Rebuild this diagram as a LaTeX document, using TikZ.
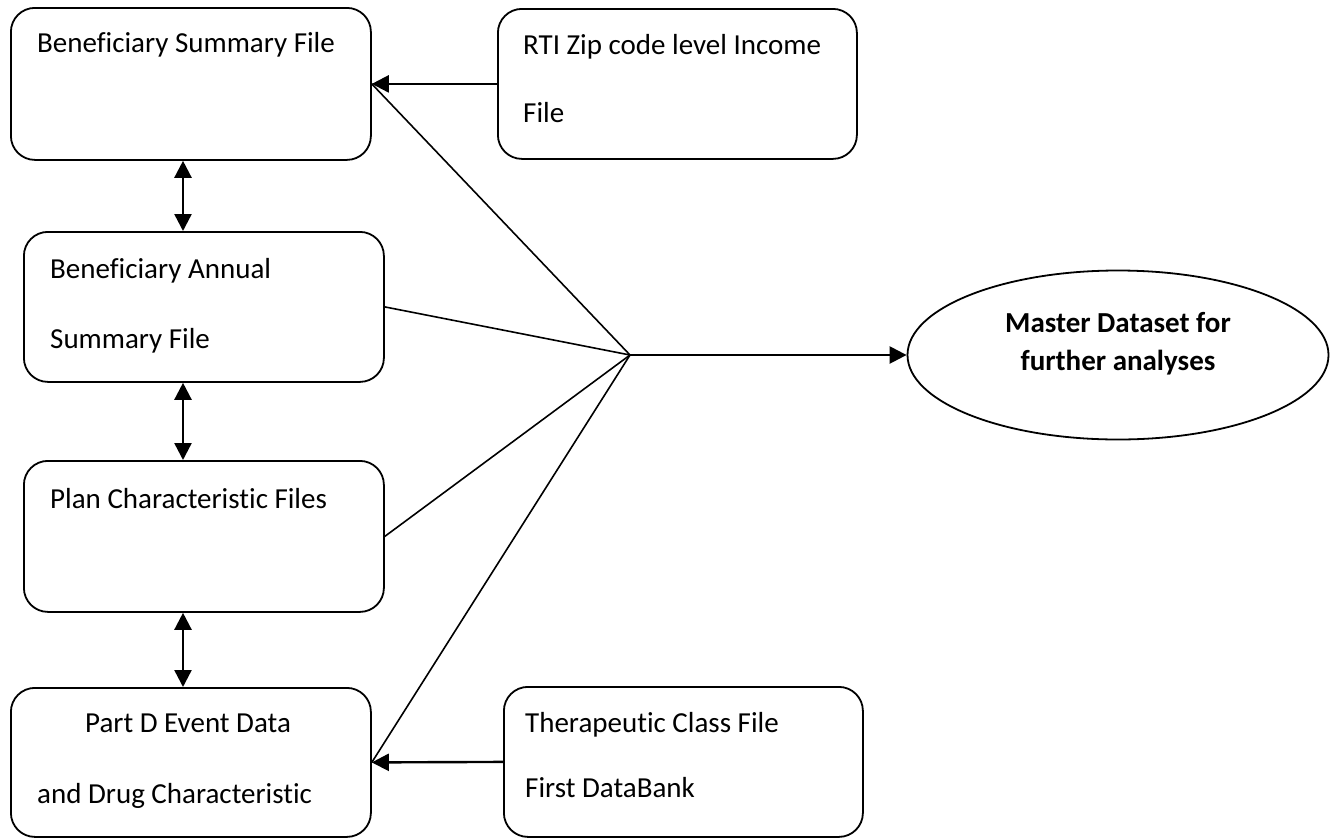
\documentclass[tikz,border=0pt]{standalone}
\usepackage{fontspec}
\setmainfont[Ligatures={NoCommon}]{Carlito}
\usetikzlibrary{shapes.geometric,arrows.meta}
\begin{document}
\begin{tikzpicture}[x=1pt,y=-1pt,
  box/.style={draw, line width=1.8pt, rounded corners=24pt, anchor=north west, inner sep=0pt},
  lbl/.style={anchor=base west, inner sep=0pt, font=\fontsize{29}{35}\selectfont},
  blbl/.style={anchor=base, inner sep=0pt, font=\fontsize{29}{35}\selectfont\bfseries},
  fan/.style={line width=1.6pt},
  arr/.style={line width=2.4pt, -{Triangle[length=17pt,width=17pt]}},
  darr/.style={line width=2.4pt, {Triangle[length=17pt,width=17pt]}-{Triangle[length=17pt,width=17pt]}}]
\useasboundingbox (0,0) rectangle (1332,838);
% boxes
\node[box, minimum width=360pt, minimum height=152pt] (bs) at (10,7) {};
\node[box, minimum width=359pt, minimum height=150pt] (rti) at (497,8) {};
\node[box, minimum width=360pt, minimum height=150pt] (ann) at (23,231) {};
\node[box, minimum width=360pt, minimum height=151pt] (plan) at (23,460) {};
\node[box, minimum width=360pt, minimum height=149pt] (partd) at (10,687) {};
\node[box, minimum width=359pt, minimum height=150pt] (ther) at (503,686) {};
\node[draw, ellipse, line width=1.8pt, minimum width=421pt, minimum height=169pt, inner sep=0pt] (master) at (1118,355) {};
% texts
\node[lbl] (t1) at (37,52) {Beneficiary Summary File};
\node[lbl] (t2a) at (523,54) {RTI Zip code level Income};
\node[lbl] (t2b) at (523,122) {File};
\node[lbl] (t3a) at (50,278) {Beneficiary Annual};
\node[lbl] (t3b) at (50,348) {Summary File};
\node[lbl] (t4) at (50,508) {Plan Characteristic Files};
\node[lbl] (t5a) at (85,732) {Part D Event Data};
\node[lbl] (t5b) at (37,803) {and Drug Characteristic};
\node[lbl] (t6a) at (525,732) {Therapeutic Class File};
\node[lbl] (t6b) at (525,797) {First DataBank};
\node[blbl] (t7a) at (1118,332) {Master Dataset for};
\node[blbl] (t7b) at (1118,370) {further analyses};
% connectors
\coordinate (hub) at (630,355);
\coordinate (ax) at (183,0);
\draw[fan] (bs.east) -- (hub);
\draw[fan] (ann.east) -- (hub);
\draw[fan] (plan.east) -- (hub);
\draw[fan] (partd.east) -- (hub);
\draw[arr] (hub) -- (master.west);
\draw[arr] (rti.west) -- (bs.east);
\draw[arr] (ther.west) -- (partd.east);
\draw[darr] (bs.south -| ax) -- (ann.north -| ax);
\draw[darr] (ann.south -| ax) -- (plan.north -| ax);
\draw[darr] (plan.south -| ax) -- (partd.north -| ax);
\end{tikzpicture}
\end{document}
